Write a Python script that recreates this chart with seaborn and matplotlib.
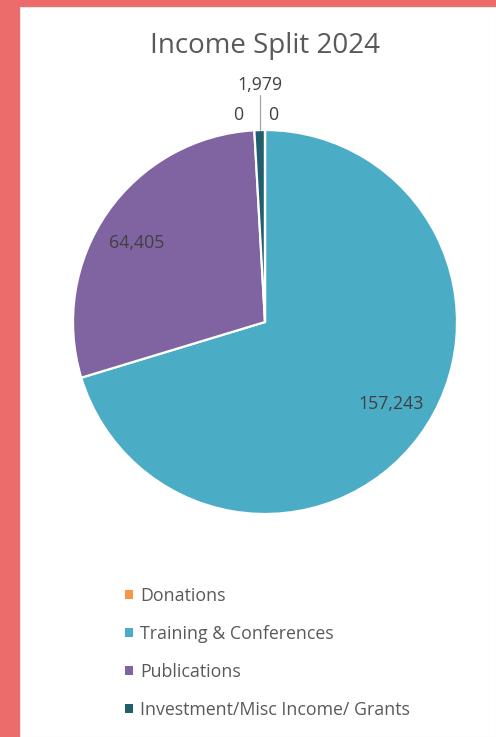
import numpy as np
import matplotlib
matplotlib.use("Agg")
import matplotlib.pyplot as plt
from matplotlib.patches import Rectangle, Patch
import seaborn as sns

# Chart data
categories = ["Donations", "Training & Conferences", "Publications",
              "Investment/Misc Income/ Grants", "Other"]
values = [0, 157243, 64405, 1979, 0]
colors = ["#F79646", "#4BACC6", "#8064A2", "#215F6E", "#A5A5A5"]
legend_count = 4  # the fifth legend entry falls below the visible area
title = "Income Split 2024"

sns.set_theme(style="white")
plt.rcParams["font.family"] = ["Open Sans", "DejaVu Sans"]

W, H = 496, 737
fig = plt.figure(figsize=(W / 100, H / 100), dpi=100)
fig.patch.set_facecolor("#EC6B6B")

# white chart panel over the red frame
fig.add_artist(Rectangle((20 / W, 0), 1 - 20 / W, 1 - 7 / H,
                         transform=fig.transFigure, facecolor="white",
                         edgecolor="#E4E4E4", linewidth=0.8, zorder=0))

# pie axes: centre (265, 322) px, radius 192 px
cx, cy, r = 265, 322, 192
ax = fig.add_axes([(cx - r) / W, (H - cy - r) / H, 2 * r / W, 2 * r / H])
wedges, _ = ax.pie(values, colors=colors, startangle=90, counterclock=False,
                   radius=1.0,
                   wedgeprops={"edgecolor": "white", "linewidth": 1.6})
ax.set_xlim(-1, 1)
ax.set_ylim(-1, 1)
ax.set_aspect("equal")
ax.axis("off")

label_color = "#404040"
label_size = 12.8
fmt = lambda v: f"{v:,.0f}"

for i, (w, v) in enumerate(zip(wedges, values)):
    mid = np.deg2rad((w.theta1 + w.theta2) / 2)
    share = v / sum(values)
    if share > 0.05:
        ang = mid + np.deg2rad(3.5)
        ax.text(0.785 * np.cos(ang), 0.785 * np.sin(ang), fmt(v),
                ha="center", va="center", fontsize=label_size,
                color=label_color)
    elif v > 0:
        # small slice: leader line up to a label above the pie
        x0 = np.cos(mid)
        ax.plot([x0, x0], [1.0, 1.18], color="#A6A6A6", lw=0.9,
                clip_on=False)
        ax.text(x0, 1.235, fmt(v), ha="center", va="center",
                fontsize=label_size, color=label_color)
        line_x = x0

# zero-value slices sit on the start angle, on either side of the leader
for i, v in enumerate(values):
    if v == 0:
        if i == 0:
            ax.text(line_x + 0.045, 1.08, fmt(v), ha="left", va="center",
                    fontsize=label_size, color=label_color)
        else:
            ax.text(line_x - 0.085, 1.08, fmt(v), ha="right", va="center",
                    fontsize=label_size, color=label_color)

fig.text(cx / W, 1 - 46 / H, title, ha="center", va="center",
         fontsize=20, color="#595959")

handles = [Patch(facecolor=c, edgecolor="none")
           for c in colors[:legend_count]]
fig.legend(handles, categories[:legend_count], loc="upper left",
           bbox_to_anchor=(125 / W, 1 - 587 / H), frameon=False,
           fontsize=12.8, labelcolor="#595959", handlelength=0.45,
           handleheight=0.45, handletextpad=0.4, labelspacing=1.12,
           borderpad=0, borderaxespad=0)

fig.savefig("out.png", dpi=100, facecolor=fig.get_facecolor())
